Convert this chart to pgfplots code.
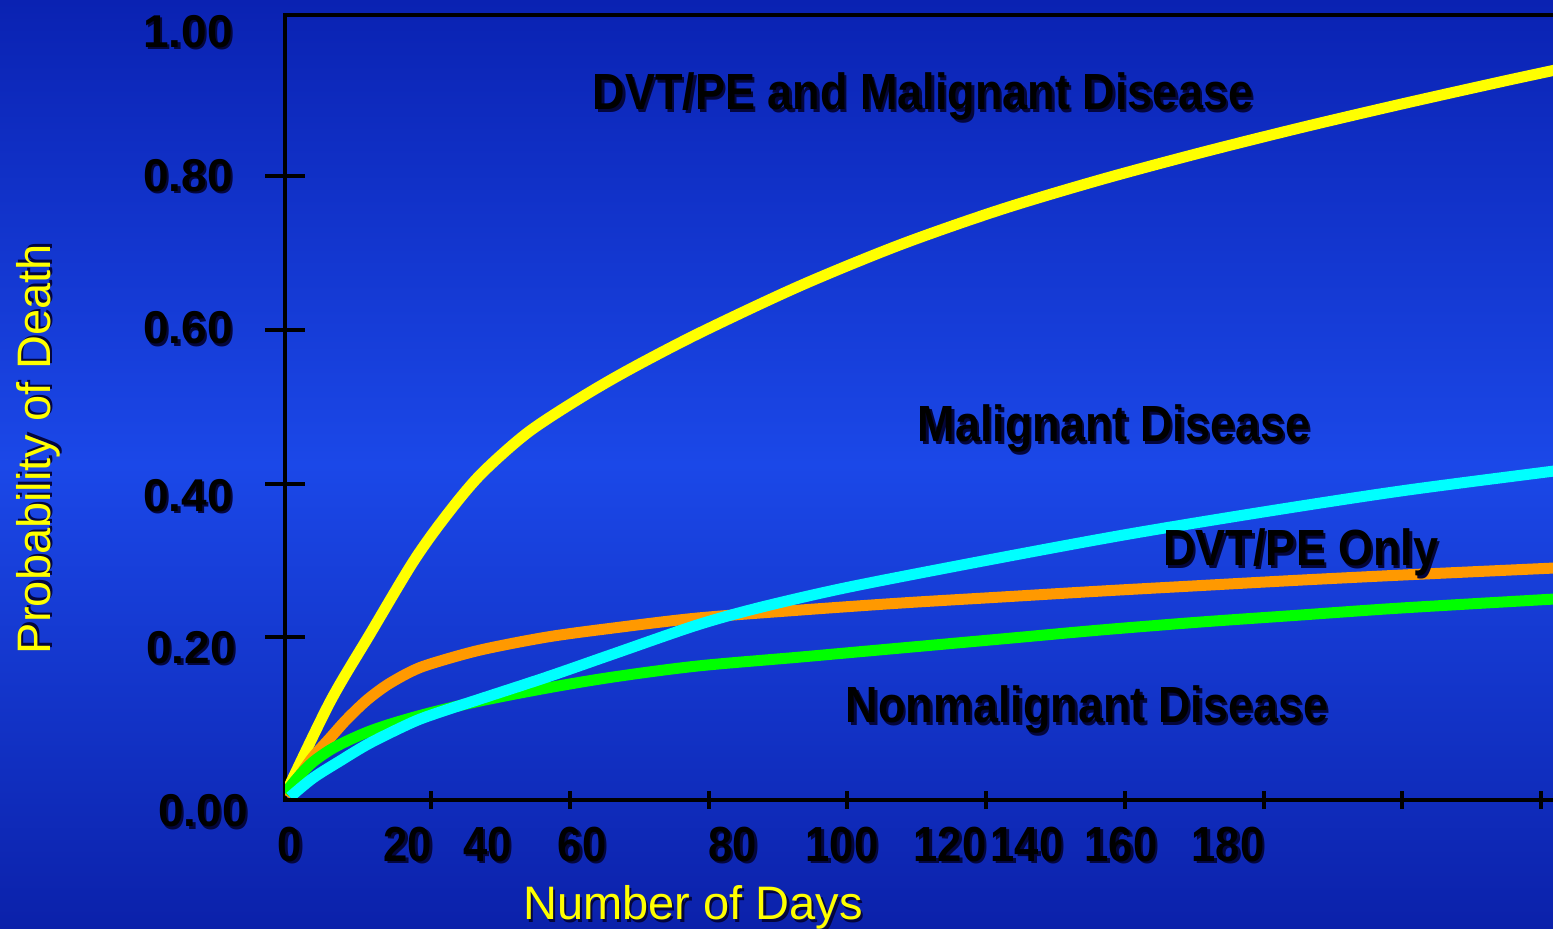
\documentclass[border=0pt]{standalone}
\usepackage{fontspec}
\setmainfont{Liberation Sans}
\usepackage{graphicx}
\usepackage{pgfplots}
\pgfplotsset{compat=1.18}

\definecolor{bgtop}{RGB}{10,34,178}
\definecolor{bgmid}{RGB}{27,72,232}
\definecolor{bgbot}{RGB}{11,33,170}
\definecolor{shadowc}{RGB}{4,6,60}
\definecolor{cOrange}{RGB}{255,153,0}
\definecolor{cGreen}{RGB}{0,255,0}
\definecolor{cCyan}{RGB}{0,255,255}
\definecolor{cYellow}{RGB}{255,255,0}

\newcommand\shd[1]{\makebox[0pt][l]{\kern1.2pt\raisebox{-1.2pt}{\color{shadowc}#1}}#1}
\newcommand\vs[1]{\scalebox{1}[1.13]{\shd{#1}}}
\newcommand\tickfont{\fontsize{23}{27}\selectfont\bfseries}
\newcommand\xfont{\fontsize{21.8}{26}\selectfont\bfseries}
\newcommand\annfont{\fontsize{22.5}{26}\selectfont\bfseries}
\newcommand\titfont{\fontsize{23.5}{28}\selectfont}

\begin{document}
\begin{tikzpicture}
\path[use as bounding box, clip] (0,0) rectangle (776.5pt,-464.5pt);
\fill[top color=bgtop, bottom color=bgbot, middle color=bgmid] (0,0) rectangle (776.5pt,-464.5pt);

\begin{axis}[
  at={(142.5pt,-400pt)}, anchor=south west, scale only axis,
  width=637.5pt, height=392.5pt,
  xmin=-1.045, xmax=182.74, ymin=-0.0121, ymax=1.0101,
  axis line style={line width=2pt, black},
  xtick=\empty,
  ytick={0.2,0.4,0.6,0.8}, yticklabels={,,,},
  ytick pos=left, tick align=center, major tick length=20pt,
  tick style={line width=2pt, black},
  extra y ticks={0.9680,0.7809,0.5818,0.3640,0.1662,-0.012},
  extra y tick labels={\shd{1.00},\shd{0.80},\shd{0.60},\shd{0.40},\shd{0.20\kern-1.5pt},\shd{\raisebox{-13.5pt}{0.00}\kern-7.5pt}},
  extra y tick style={tick style={draw=none}, yticklabel style={anchor=base east, inner sep=0pt, font=\tickfont, xshift=-16pt}},
]
\addplot[cYellow, line width=5.5pt, smooth] coordinates {
(-1.045,-0.0056) (5.44,0.1155) (11.21,0.2040) (17.41,0.2977) (22.02,0.3562)
(27.06,0.4109) (33.84,0.4656) (41.48,0.5111) (48.69,0.5489) (58.77,0.5963)
(73.19,0.6574) (87.60,0.7108) (102.02,0.7564) (116.43,0.7954) (130.85,0.8305)
(145.26,0.8631) (159.68,0.8937) (174.09,0.9229) (181.73,0.9378) (182.74,0.9397)};
\addplot[cOrange, line width=5.5pt, smooth] coordinates {
(-1.045,-0.0056) (1.117,0.0204) (2.99,0.0439) (5.44,0.0686) (7.89,0.0933)
(10.77,0.1181) (13.66,0.1376) (16.97,0.1545) (19.86,0.1649) (27.06,0.1831)
(36.72,0.2001) (46.23,0.2118) (58.34,0.2248) (73.19,0.2352) (87.60,0.2443)
(102.02,0.2521) (116.43,0.2599) (130.85,0.2671) (145.26,0.2742) (159.68,0.2807)
(181.73,0.2899) (182.74,0.2905)};
\addplot[cGreen, line width=5.5pt, smooth] coordinates {
(-1.045,-0.0030) (1.117,0.0204) (2.99,0.0374) (5.44,0.0530) (7.89,0.0647)
(11.21,0.0777) (15.10,0.0894) (20.29,0.1024) (27.06,0.1168) (36.72,0.1337)
(46.23,0.1480) (58.34,0.1623) (73.19,0.1740) (87.60,0.1857) (102.02,0.1974)
(116.43,0.2092) (130.85,0.2196) (145.26,0.2287) (159.68,0.2378) (181.73,0.2495)
(182.74,0.2500)};
\addplot[cCyan, line width=5.5pt, smooth] coordinates {
(-0.32,-0.0082) (2.99,0.0165) (6.88,0.0387) (11.21,0.0621) (17.41,0.0894)
(21.30,0.1024) (27.06,0.1194) (36.72,0.1480) (46.23,0.1779) (58.34,0.2157)
(67.42,0.2386) (80.11,0.2649) (100.14,0.3001) (120.04,0.3333) (140.07,0.3631)
(159.96,0.3905) (181.73,0.4161) (182.74,0.4173)};
\end{axis}

\begin{axis}[
  at={(142.5pt,-400pt)}, anchor=south west, scale only axis,
  width=637.5pt, height=392.5pt,
  xmin=-1.045, xmax=182.74, ymin=-0.0121, ymax=1.0101,
  hide y axis, axis x line*=bottom,
  axis line style={line width=2pt, black},
  xtick={20,40,60,80,100,120,140,160,180}, xticklabels={,,,,,,,,},
  tick align=center, major tick length=9pt,
  tick style={line width=2pt, black},
  extra x ticks={-0.32,16.68,28.14,41.77,63.48,79.24,94.81,105.91,119.46,134.88},
  extra x tick labels={\vs{0},\vs{20},\vs{40},\vs{60},\vs{80},\vs{100},\vs{120},\vs{140},\vs{160},\vs{180}},
  extra x tick style={tick style={draw=none}, xticklabel style={anchor=base, inner sep=0pt, font=\xfont, yshift=-26pt}},
]
\end{axis}

\node[text=cYellow, rotate=90, anchor=base, font=\titfont, inner sep=0pt] at (25pt,-224.5pt) {\shd{Probability of Death}};
\node[text=cYellow, anchor=base, font=\titfont, inner sep=0pt] at (346.5pt,-460pt) {\shd{Number of Days}};

\node[anchor=base, font=\annfont, inner sep=0pt] at (461.5pt,-55pt) {\vs{DVT/PE and Malignant Disease}};
\node[anchor=base, font=\annfont, inner sep=0pt] at (557pt,-221pt) {\vs{Malignant Disease}};
\node[anchor=base, font=\annfont, inner sep=0pt] at (650.5pt,-283pt) {\vs{DVT/PE Only}};
\node[anchor=base, font=\annfont, inner sep=0pt] at (543.5pt,-361.5pt) {\vs{Nonmalignant Disease}};
\end{tikzpicture}
\end{document}
